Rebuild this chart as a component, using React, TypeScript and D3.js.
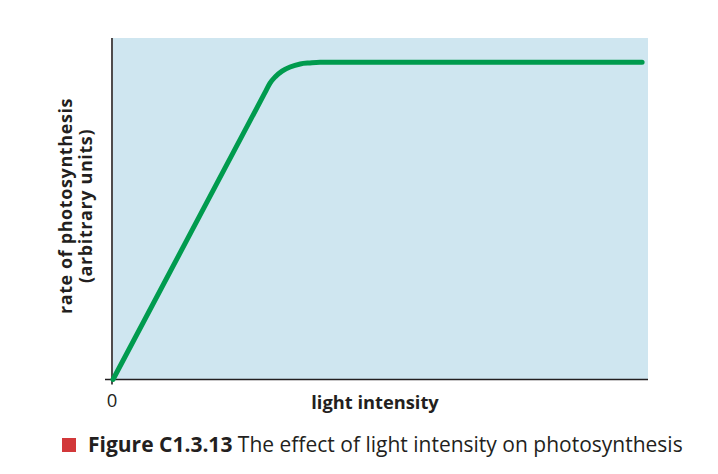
import React from "react";
import * as d3 from "d3";

const W = 718;
const H = 474;

// data: light intensity (arbitrary) vs rate of photosynthesis (arbitrary)
const lightIntensity = [0, 14, 28.4, 29.35, 30.3, 31.6, 33.1, 35.0, 36.8, 38.7, 60, 98.9];
const rateValues = [0, 41.4, 84.0, 86.8, 88.6, 90.3, 91.5, 92.4, 92.7, 92.9, 92.9, 92.9];
const xTickLabels = ["0"];
const xAxisTitle = "light intensity";
const yAxisTitle = ["rate of photosynthesis", "(arbitrary units)"];
const captionBold = "Figure C1.3.13";
const captionText = " The effect of light intensity on photosynthesis";

const FONT = "'Open Sans', 'Noto Sans', sans-serif";

export default function App() {
  const left = 113, right = 648, top = 38, bottom = 379.5;
  const x = d3.scaleLinear().domain([0, 100]).range([left, right]);
  const y = d3.scaleLinear().domain([0, 100]).range([bottom, top]);
  const pts: [number, number][] = lightIntensity.map((d, i) => [d, rateValues[i]]);
  const line = d3
    .line<[number, number]>()
    .x((d) => x(d[0]))
    .y((d) => y(d[1]))
    .curve(d3.curveMonotoneX);

  return (
    <svg width={W} height={H} style={{ position: "absolute", left: 0, top: 0 }}>
      <rect x={0} y={0} width={W} height={H} fill="#fff" />
      <rect x={x(0)} y={y(100)} width={x(100) - x(0)} height={y(0) - y(100)} fill="#cfe6f0" />
      {/* axes */}
      <line x1={x(0) - 1} x2={x(0) - 1} y1={y(100)} y2={y(0) + 5} stroke="#231f20" strokeWidth={1.6} />
      <line x1={x(0) - 8} x2={x(100)} y1={y(0)} y2={y(0)} stroke="#231f20" strokeWidth={1.6} />
      <path d={line(pts) || ""} fill="none" stroke="#009b4e" strokeWidth={5} strokeLinecap="round" strokeLinejoin="round" />
      {xTickLabels.map((t) => (
        <text key={t} x={x(0) - 1} y={407} textAnchor="middle" fontFamily={FONT} fontSize={18.5} fill="#231f20">
          {t}
        </text>
      ))}
      <text x={375} y={409} textAnchor="middle" fontFamily={FONT} fontSize={18.3} fontWeight="bold" fill="#231f20">
        {xAxisTitle}
      </text>
      <g transform="translate(72,206) rotate(-90)">
        <text x={0} y={0} textAnchor="middle" fontFamily={FONT} fontSize={18} letterSpacing={0.6} fontWeight="bold" fill="#231f20">
          {yAxisTitle[0]}
        </text>
        <text x={0} y={19.5} textAnchor="middle" fontFamily={FONT} fontSize={18} letterSpacing={0.6} fontWeight="bold" fill="#231f20">
          {yAxisTitle[1]}
        </text>
      </g>
      <rect x={62} y={438} width={14} height={14} fill="#d2383a" />
      <text x={88} y={452} fontFamily={FONT} fontSize={21} fill="#231f20">
        <tspan fontWeight="bold">{captionBold}</tspan>
        <tspan>{captionText}</tspan>
      </text>
    </svg>
  );
}
